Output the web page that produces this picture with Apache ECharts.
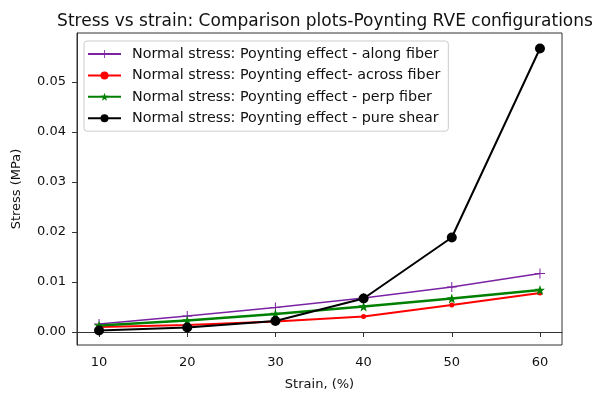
<!DOCTYPE html>
<html>
<head>
<meta charset="utf-8">
<script src="https://cdn.jsdelivr.net/npm/echarts@6/dist/echarts.min.js"></script>
<style>html,body{margin:0;padding:0;background:#fff;}#c{width:594px;height:396px;}</style>
</head>
<body>
<div id="c"></div>
<script>
const strain = [10, 20, 30, 40, 50, 60];
const alongFiber = [0.0016, 0.0032, 0.0049, 0.0068, 0.0090, 0.0117];
const acrossFiber = [0.0010, 0.0014, 0.0021, 0.0031, 0.0054, 0.0078];
const perpFiber = [0.0013, 0.0023, 0.0036, 0.0051, 0.0067, 0.0084];
const pureShear = [0.0003, 0.0009, 0.0022, 0.0067, 0.0189, 0.0567];
const xTicks = [10, 20, 30, 40, 50, 60];
const yTicks = [0.00, 0.01, 0.02, 0.03, 0.04, 0.05];
const names = [
  'Normal stress: Poynting effect - along fiber',
  'Normal stress: Poynting effect- across fiber',
  'Normal stress: Poynting effect - perp fiber',
  'Normal stress: Poynting effect - pure shear'
];

const plusPath = 'path://M-1,-10 L1,-10 L1,-1 L10,-1 L10,1 L1,1 L1,10 L-1,10 L-1,1 L-10,1 L-10,-1 L-1,-1 Z';
const starPath = 'path://M0,-10 L2.35,-3.24 L9.51,-3.09 L3.8,1.24 L5.88,8.09 L0,4 L-5.88,8.09 L-3.8,1.24 L-9.51,-3.09 L-2.35,-3.24 Z';

function pairs(ys) { return strain.map((x, i) => [x, ys[i]]); }

const font = 'DejaVu Sans';
const chart = echarts.init(document.getElementById('c'), null, {renderer: 'canvas'});
chart.setOption({
  animation: false,
  backgroundColor: '#fff',
  title: {
    text: 'Stress vs strain: Comparison plots-Poynting RVE configurations',
    left: 320, top: 8, textAlign: 'center',
    textStyle: {fontFamily: font, fontSize: 17, fontWeight: 'normal', color: '#111'}
  },
  grid: {left: 77, right: 32, top: 33, bottom: 47, show: true, borderColor: '#333', borderWidth: 1, backgroundColor: 'transparent'},
  legend: {
    orient: 'vertical', left: 84, top: 41,
    itemWidth: 33, itemHeight: 10, itemGap: 7.4,
    padding: [6, 8, 6, 3],
    borderColor: '#ccc', borderWidth: 1, borderRadius: 3,
    backgroundColor: 'rgba(255,255,255,0.8)',
    textStyle: {fontFamily: font, fontSize: 14.3, lineHeight: 14, color: '#111', padding: [0, 0, 0, 6]},
    data: [
      {name: names[0]},
      {name: names[1], itemStyle: {color: '#ff0000'}},
      {name: names[2]},
      {name: names[3]}
    ]
  },
  xAxis: {
    type: 'value', min: 7.5, max: 62.5,
    name: 'Strain, (%)', nameLocation: 'middle', nameGap: 33,
    nameTextStyle: {fontFamily: font, fontSize: 13, color: '#111'},
    axisLine: {show: true, lineStyle: {color: '#333', width: 1}},
    axisTick: {show: true, length: 5, customValues: xTicks, lineStyle: {color: '#333'}},
    axisLabel: {customValues: xTicks, fontFamily: font, fontSize: 13, color: '#111', margin: 11},
    splitLine: {show: false}
  },
  yAxis: {
    type: 'value', min: -0.0026, max: 0.0598,
    name: 'Stress (MPa)', nameLocation: 'middle', nameGap: 54,
    nameTextStyle: {fontFamily: font, fontSize: 13, color: '#111'},
    axisLine: {show: true, lineStyle: {color: '#333', width: 1}},
    axisTick: {show: true, length: 5, customValues: yTicks, lineStyle: {color: '#333'}},
    axisLabel: {customValues: yTicks, fontFamily: font, fontSize: 13, color: '#111', margin: 11,
      formatter: v => v.toFixed(2)},
    splitLine: {show: false}
  },
  series: [
    {name: names[0], type: 'line', data: pairs(alongFiber), symbol: plusPath, symbolSize: 10,
      lineStyle: {color: '#7b22a3', width: 1.6}, itemStyle: {color: '#7b22a3'}},
    {name: names[1], type: 'line', data: pairs(acrossFiber), symbol: 'circle', symbolSize: 5,
      lineStyle: {color: '#ff0000', width: 2}, itemStyle: {color: '#ff0000'}},
    {name: names[2], type: 'line', data: pairs(perpFiber), symbol: starPath, symbolSize: 10,
      lineStyle: {color: '#008000', width: 2.5}, itemStyle: {color: '#008000'}},
    {name: names[3], type: 'line', data: pairs(pureShear), symbol: 'circle', symbolSize: 10,
      lineStyle: {color: '#000000', width: 2}, itemStyle: {color: '#000000'}}
  ]
});
</script>
</body>
</html>
